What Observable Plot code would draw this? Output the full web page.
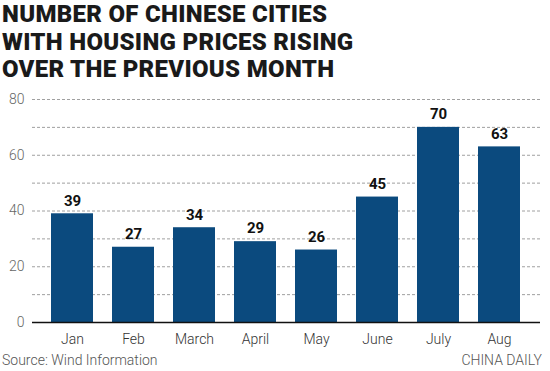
<!DOCTYPE html>
<html><head><meta charset="utf-8">
<script src="https://cdn.jsdelivr.net/npm/d3@7"></script>
<script src="https://cdn.jsdelivr.net/npm/@observablehq/plot@0.6"></script>
<style>
body{margin:0;background:#fff;width:550px;height:371px;overflow:hidden;position:relative;font-family:Roboto,"Open Sans",sans-serif;}
#title{position:absolute;left:2px;top:1px;font-family:Roboto,sans-serif;font-weight:900;font-size:24px;line-height:27.5px;color:#1a1a1a;letter-spacing:0.3px;}
#chart{position:absolute;left:0;top:88px;}
#src{position:absolute;left:2px;top:352px;font-size:14px;color:#555;font-weight:300;}
#cd{position:absolute;right:8px;top:352px;font-size:14px;color:#555;font-weight:300;}
</style></head><body>
<div id="title">NUMBER OF CHINESE CITIES<br>WITH HOUSING PRICES RISING<br>OVER THE PREVIOUS MONTH</div>
<div id="chart"></div>
<div id="src">Source: Wind Information</div>
<div id="cd">CHINA DAILY</div>
<script>
const months = ["Jan","Feb","March","April","May","June","July","Aug"];
const cities = [39,27,34,29,26,45,70,63];
const yTickLabels = [0,20,40,60,80];
const gridValues = [10,20,30,40,50,60,70,80];

const data = months.map((m,i)=>({month:m, value:cities[i]}));

const chart = Plot.plot({
  width:550, height:265,
  marginLeft:32, marginRight:10, marginTop:11, marginBottom:31,
  style:{fontFamily:"Roboto, sans-serif", background:"transparent"},
  x:{domain:months, padding:0.31, label:null},
  y:{domain:[0,80], label:null},
  marks:[
    Plot.ruleY(gridValues,{stroke:"#888", strokeDasharray:"3,2", strokeWidth:0.8}),
    Plot.barY(data,{x:"month", y:"value", fill:"#0b4a7e"}),
    Plot.ruleY([0],{stroke:"#111", strokeWidth:1.5}),
    Plot.text(data,{x:"month", y:"value", text:d=>String(d.value), dy:-13, fontWeight:"bold", fontSize:15, fill:"#111"}),
    Plot.axisY({ticks:yTickLabels, tickSize:0, tickPadding:8, fontSize:14, fill:"#666", fontWeight:300, label:null}),
    Plot.axisX({tickSize:0, tickPadding:12, fontSize:14, fill:"#333", fontWeight:300, label:null})
  ]
});
document.getElementById("chart").appendChild(chart);
</script>
</body></html>
